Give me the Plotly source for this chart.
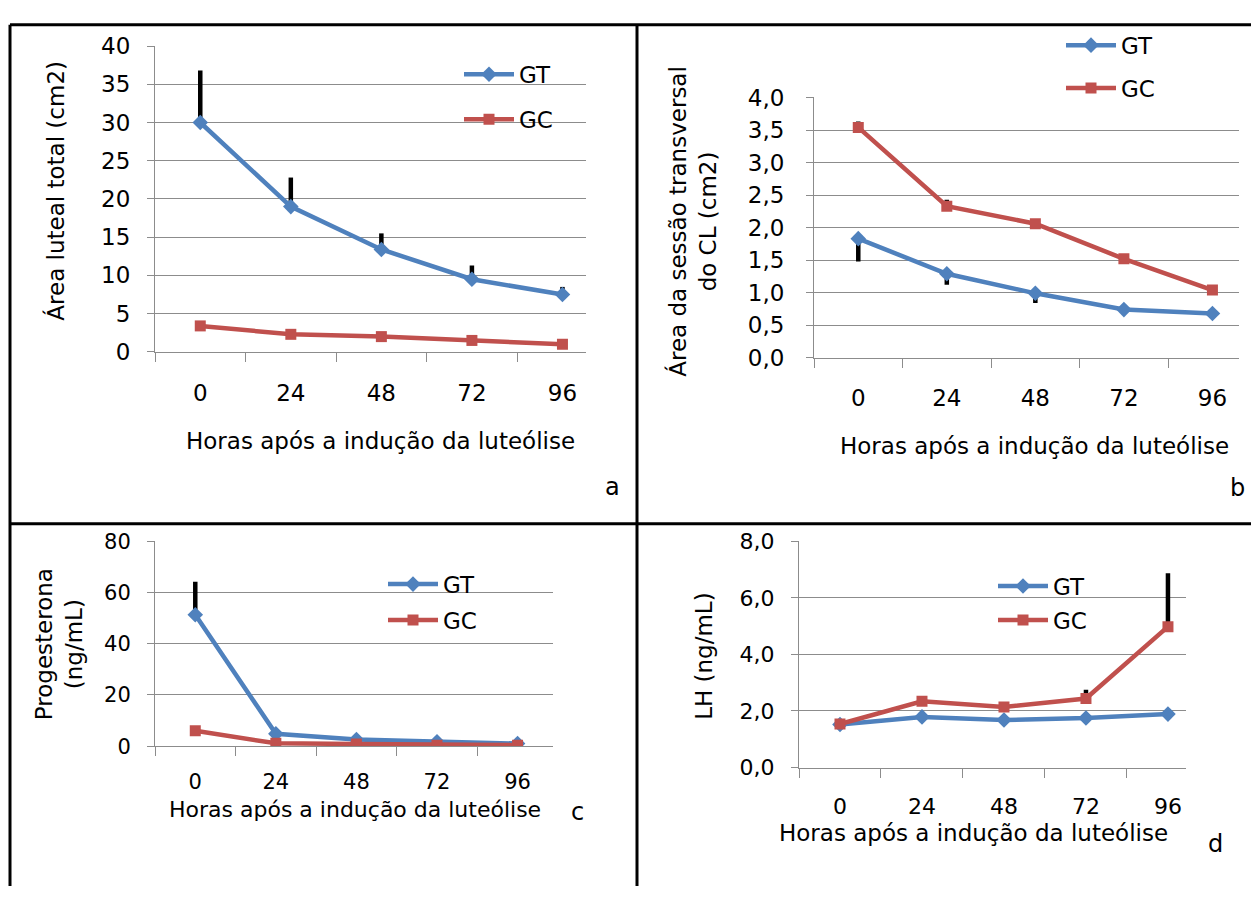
import plotly.graph_objects as go

W, H = 1251, 899

hours = ["0", "24", "48", "72", "96"]

# Panel a: Área luteal total (cm2)
a_gt = [30.0, 19.0, 13.4, 9.5, 7.5]
a_gt_err = [6.8, 3.8, 2.1, 1.8, 1.0]
a_gc = [3.4, 2.3, 2.0, 1.5, 1.0]

# Panel b: Área da sessão transversal do CL (cm2)
b_gt = [1.83, 1.29, 0.99, 0.74, 0.68]
b_gt_err_minus = [0.35, 0.17, 0.15, 0.0, 0.0]
b_gc = [3.54, 2.33, 2.06, 1.52, 1.04]
b_gc_err_plus = [0.09, 0.10, 0.0, 0.0, 0.0]

# Panel c: Progesterona (ng/mL)
c_gt = [51.3, 4.8, 2.6, 1.7, 1.0]
c_gt_err = [12.9, 0.0, 0.0, 0.0, 0.0]
c_gc = [6.0, 1.1, 0.8, 0.4, 0.4]

# Panel d: LH (ng/mL)
d_gt = [1.52, 1.79, 1.68, 1.75, 1.89]
d_gc = [1.54, 2.34, 2.14, 2.44, 4.98]
d_gc_err = [0.0, 0.0, 0.0, 0.31, 1.89]

BLUE = "#4F81BD"
RED = "#C0504D"
GRID = "#8C8C8C"
FONT = "DejaVu Sans"
xtitle = "Horas após a indução da luteólise"


def px(x):
    return x / W


def py(y):
    return 1 - y / H


fig = go.Figure()

panels = [
    dict(ax="", gt=a_gt, gc=a_gc, errs=[("gt", a_gt_err, None)], xd=(155, 586), yd=(34, 349),
         yr=[0, 40], dt=5, fmt="d", xe=4.26, lg="legend", std=12, fs=23, xstd=20),
    dict(ax="2", gt=b_gt, gc=b_gc, errs=[("gt", None, b_gt_err_minus), ("gc", b_gc_err_plus, None)],
         xd=(814, 1239), yd=(87, 355), yr=[0, 4], dt=0.5, fmt=".1f", xe=4.30, lg="legend2", std=17, fs=23, xstd=20),
    dict(ax="3", gt=c_gt, gc=c_gc, errs=[("gt", c_gt_err, None)], xd=(155, 553), yd=(544, 755),
         yr=[0, 80], dt=20, fmt="d", xe=4.44, lg="legend3", std=12, fs=21, xstd=17),
    dict(ax="4", gt=d_gt, gc=d_gc, errs=[("gc", d_gc_err, None)], xd=(799, 1186), yd=(544, 777),
         yr=[0, 8], dt=2, fmt=".1f", xe=4.22, lg="legend4", std=12, fs=22, xstd=19),
]

layout_axes = {}
for p in panels:
    xa = "x" + p["ax"]
    ya = "y" + p["ax"]
    for which, plus, minus in p["errs"]:
        vals = p["gt"] if which == "gt" else p["gc"]
        ey = dict(type="data", symmetric=False,
                  array=plus if plus is not None else [0] * 5,
                  arrayminus=minus if minus is not None else [0] * 5,
                  color="black", thickness=4.5, width=0)
        fig.add_trace(go.Scatter(x=hours, y=vals, mode="markers",
                                 marker=dict(size=1, color="rgba(0,0,0,0)"),
                                 error_y=ey, showlegend=False, hoverinfo="skip",
                                 xaxis=xa, yaxis=ya))
    fig.add_trace(go.Scatter(x=hours, y=p["gt"], mode="lines+markers", name="GT",
                             line=dict(color=BLUE, width=4.5),
                             marker=dict(symbol="diamond", size=12, color=BLUE),
                             legend=p["lg"], legendgroup="gt" + p["ax"],
                             xaxis=xa, yaxis=ya))
    fig.add_trace(go.Scatter(x=hours, y=p["gc"], mode="lines+markers", name="GC",
                             line=dict(color=RED, width=4.5),
                             marker=dict(symbol="square", size=11, color=RED),
                             legend=p["lg"], legendgroup="gc" + p["ax"],
                             xaxis=xa, yaxis=ya))
    xkey = "xaxis" + p["ax"]
    ykey = "yaxis" + p["ax"]
    layout_axes[xkey] = dict(
        domain=[px(p["xd"][0]), px(p["xd"][1])], anchor=ya, type="category",
        range=[-0.5, p["xe"]], showgrid=False, zeroline=False,
        showline=True, linecolor=GRID, linewidth=1,
        ticks="outside", tickson="boundaries", ticklen=9, tickcolor=GRID, tickwidth=1,
        ticklabelstandoff=p["xstd"],
        tickfont=dict(family=FONT, size=p["fs"], color="black"))
    layout_axes[ykey] = dict(
        domain=[py(p["yd"][1]), py(p["yd"][0])], anchor=xa, range=p["yr"],
        dtick=p["dt"], tick0=0, tickformat=p["fmt"], showgrid=True, gridcolor=GRID,
        gridwidth=1, zeroline=False, showline=True, linecolor=GRID, linewidth=1,
        ticks="outside", ticklen=7, tickcolor=GRID, tickwidth=1,
        ticklabelstandoff=p["std"],
        tickfont=dict(family=FONT, size=p["fs"], color="black"))

legend_common = dict(bgcolor="rgba(0,0,0,0)", borderwidth=0, itemwidth=50,
                     traceorder="grouped", xanchor="left", yanchor="top",
                     font=dict(family=FONT, size=23, color="black"))

legend_pos = {
    "legend": (459, 41, 12),
    "legend2": (1061, 11, 10),
    "legend3": (383, 566, 3),
    "legend4": (993, 568, 1),
}
legends = {}
for k, (lx, ly, gap) in legend_pos.items():
    d = dict(legend_common)
    d.update(x=px(lx), y=py(ly), tracegroupgap=gap)
    legends[k] = d

annotations = []
for (cx, cy, fs) in [(380, 441, 23), (1034, 446, 23), (355, 820, 22), (973, 844, 23)]:
    annotations.append(dict(text=xtitle, x=px(cx), y=py(cy), xref="paper", yref="paper",
                            xanchor="center", yanchor="middle", showarrow=False,
                            font=dict(family=FONT, size=fs, color="black")))
for (txt, cx, cy) in [("Área luteal total (cm2)", 56, 183),
                      ("Área da sessão transversal<br>do CL (cm2)", 693, 215),
                      ("Progesterona<br>(ng/mL)", 59, 650),
                      ("LH (ng/mL)", 704, 662)]:
    annotations.append(dict(text=txt, x=px(cx), y=py(cy), xref="paper", yref="paper",
                            xanchor="center", yanchor="middle", showarrow=False, textangle=-90,
                            font=dict(family=FONT, size=23, color="black")))
for (txt, cx, cy) in [("a", 612, 488), ("b", 1237, 489), ("c", 577, 823), ("d", 1215, 856)]:
    annotations.append(dict(text=txt, x=px(cx), y=py(cy), xref="paper", yref="paper",
                            xanchor="center", yanchor="middle", showarrow=False,
                            font=dict(family=FONT, size=24, color="black")))

shapes = []
for (x0, y0, x1, y1) in [(10, 12, W, 12), (10, 12, 10, H), (637, 12, 637, H), (10, 526, W, 526)]:
    shapes.append(dict(type="line", xref="paper", yref="paper",
                       x0=px(x0), y0=py(y0), x1=px(x1), y1=py(y1),
                       line=dict(color="black", width=3)))

fig.update_layout(
    width=W, height=H, margin=dict(l=0, r=0, t=0, b=0),
    paper_bgcolor="white", plot_bgcolor="white",
    separators=",.",
    font=dict(family=FONT, color="black"),
    annotations=annotations, shapes=shapes,
    **layout_axes, **legends,
)

post = (
    "document.documentElement.style.margin='0';"
    "document.documentElement.style.overflow='hidden';"
    "document.body.style.margin='0';document.body.style.overflow='hidden';"
    "var g=document.querySelectorAll('.plotly-graph-div');"
    "for(var i=0;i<g.length;i++){g[i].style.position='fixed';g[i].style.top='0px';g[i].style.left='0px';}"
)
fig.write_html("out.html", config={"displayModeBar": False}, post_script=post)
